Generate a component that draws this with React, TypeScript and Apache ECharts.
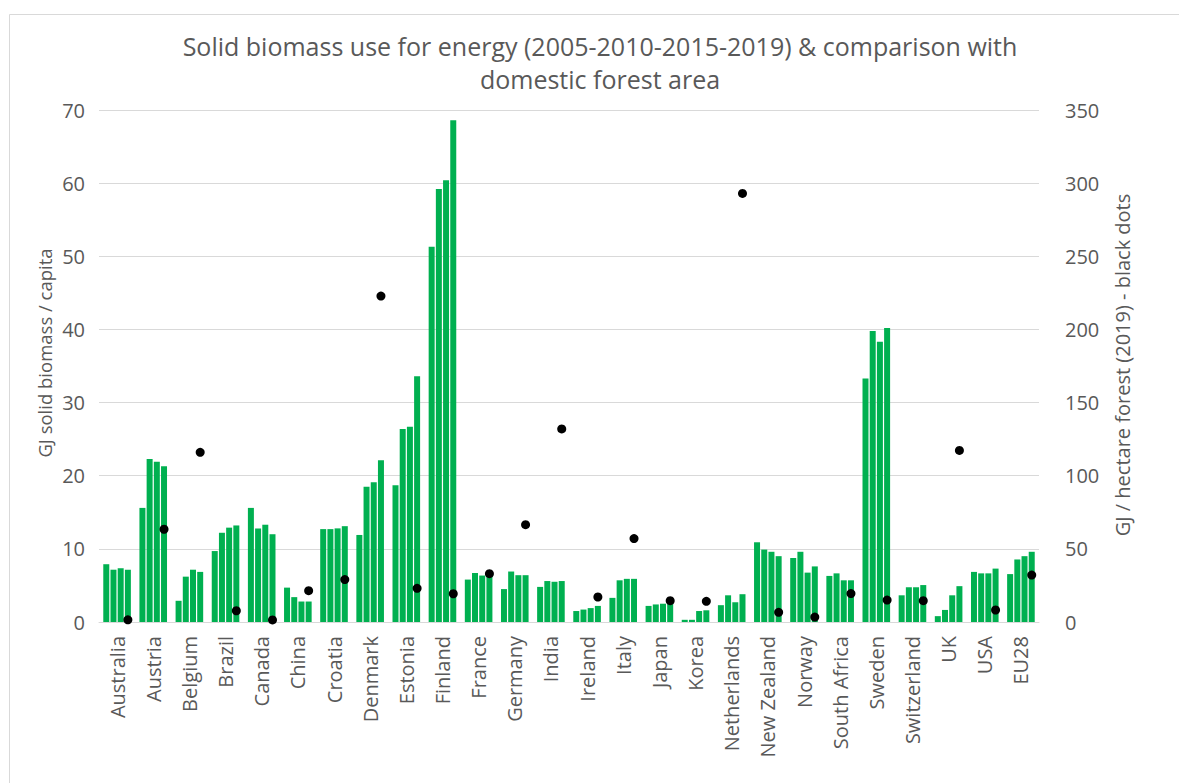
import React, { useEffect, useRef } from "react";
import * as echarts from "echarts";

const countries = [
  "Australia", "Austria", "Belgium", "Brazil", "Canada", "China", "Croatia",
  "Denmark", "Estonia", "Finland", "France", "Germany", "India", "Ireland",
  "Italy", "Japan", "Korea", "Netherlands", "New Zealand", "Norway",
  "South Africa", "Sweden", "Switzerland", "UK", "USA", "EU28",
];

// GJ solid biomass per capita
const y2005 = [7.9, 15.6, 2.9, 9.7, 15.6, 4.7, 12.7, 11.9, 18.7, 51.3, 5.8, 4.5, 4.8, 1.5, 3.3, 2.2, 0.3, 2.3, 10.9, 8.75, 6.3, 33.3, 3.65, 0.8, 6.85, 6.55];
const y2010 = [7.15, 22.3, 6.2, 12.2, 12.8, 3.4, 12.7, 18.5, 26.4, 59.2, 6.7, 6.9, 5.6, 1.7, 5.7, 2.4, 0.3, 3.65, 9.9, 9.6, 6.65, 39.8, 4.75, 1.65, 6.65, 8.55];
const y2015 = [7.35, 21.9, 7.15, 12.9, 13.3, 2.8, 12.8, 19.1, 26.7, 60.4, 6.35, 6.4, 5.5, 1.9, 5.9, 2.5, 1.5, 2.7, 9.6, 6.75, 5.7, 38.3, 4.75, 3.65, 6.65, 9.0];
const y2019 = [7.15, 21.3, 6.85, 13.2, 12.0, 2.8, 13.1, 22.1, 33.6, 68.6, 6.3, 6.4, 5.6, 2.2, 5.9, 2.8, 1.6, 3.8, 9.0, 7.6, 5.7, 40.2, 5.05, 4.9, 7.3, 9.6];

// GJ per hectare of domestic forest (2019)
const perHectare = [1.5, 63.4, 116, 7.7, 1.4, 21.4, 29, 222.8, 23, 19.3, 33, 66.5, 132, 17.1, 57, 14.6, 14.1, 293, 6.6, 3.4, 19.4, 15, 14.6, 117.3, 8.2, 32.1];

const years = ["2005", "2010", "2015", "2019"];
const yearSeries = [y2005, y2010, y2015, y2019];

const leftTicks = { min: 0, max: 70, interval: 10 };
const rightTicks = { min: 0, max: 350, interval: 50 };

const FONT = "'Open Sans', 'Noto Sans', sans-serif";
const GREY = "#595959";
const GREEN = "#00B050";

export default function App() {
  const ref = useRef<HTMLDivElement>(null);

  useEffect(() => {
    if (!ref.current) return;
    const chart = echarts.init(ref.current, null, { renderer: "svg" });

    const BAR_W = 6;
    const BAR_GAP = 0.2;
    // the dot sits over the last (2019) bar of each group
    const groupW = BAR_W * 4 + BAR_W * BAR_GAP * 3;
    const dotOffset = groupW / 2 - BAR_W / 2;

    chart.setOption({
      animation: false,
      backgroundColor: "#ffffff",
      textStyle: { fontFamily: FONT },
      grid: { left: 99, right: 140, top: 110, bottom: 161, containLabel: false },
      graphic: [
        {
          type: "rect",
          shape: { x: 9.5, y: 14.5, width: 1300, height: 900 },
          style: { fill: "none", stroke: "#D9D9D9", lineWidth: 1 },
          silent: true,
        },
        {
          type: "text",
          x: 600,
          y: 46,
          style: {
            text: "Solid biomass use for energy (2005-2010-2015-2019) & comparison with",
            font: `25px ${FONT}`,
            fill: GREY,
            textAlign: "center",
            textVerticalAlign: "middle",
          },
        },
        {
          type: "text",
          x: 600,
          y: 79,
          style: {
            text: "domestic forest area",
            font: `25px ${FONT}`,
            fill: GREY,
            textAlign: "center",
            textVerticalAlign: "middle",
          },
        },
        {
          type: "text",
          x: 44,
          y: 353,
          rotation: Math.PI / 2,
          style: {
            text: "GJ solid biomass / capita",
            font: `18.5px ${FONT}`,
            fill: GREY,
            textAlign: "center",
            textVerticalAlign: "middle",
          },
        },
        {
          type: "text",
          x: 1122,
          y: 365,
          rotation: Math.PI / 2,
          style: {
            text: "GJ / hectare forest (2019) - black dots",
            font: `20px ${FONT}`,
            fill: GREY,
            textAlign: "center",
            textVerticalAlign: "middle",
          },
        },
      ],
      xAxis: {
        type: "category",
        data: countries,
        axisLine: { lineStyle: { color: "#D9D9D9", width: 1 } },
        axisTick: { show: false },
        axisLabel: {
          rotate: 90,
          interval: 0,
          margin: 14,
          color: GREY,
          fontSize: 20,
          fontFamily: FONT,
        },
      },
      yAxis: [
        {
          type: "value",
          ...leftTicks,
          axisLine: { show: false },
          axisTick: { show: false },
          splitLine: { lineStyle: { color: "#D9D9D9", width: 1 } },
          axisLabel: { color: GREY, fontSize: 20, margin: 14, fontFamily: FONT },
        },
        {
          type: "value",
          ...rightTicks,
          position: "right",
          axisLine: { show: false },
          axisTick: { show: false },
          splitLine: { show: false },
          axisLabel: { color: GREY, fontSize: 20, margin: 26, fontFamily: FONT },
        },
      ],
      series: [
        ...years.map((yr, i) => ({
          name: yr,
          type: "bar",
          data: yearSeries[i],
          barWidth: BAR_W,
          barGap: `${BAR_GAP * 100}%`,
          itemStyle: { color: GREEN },
        })),
        {
          name: "GJ / hectare forest (2019)",
          type: "scatter",
          yAxisIndex: 1,
          data: perHectare,
          symbol: "circle",
          symbolSize: 9,
          symbolOffset: [dotOffset, 0],
          itemStyle: { color: "#000000", opacity: 1 },
          z: 5,
        },
      ],
    });

    return () => chart.dispose();
  }, []);

  return (
    <div
      ref={ref}
      style={{ position: "fixed", left: 0, top: 0, width: 1179, height: 783 }}
    />
  );
}
